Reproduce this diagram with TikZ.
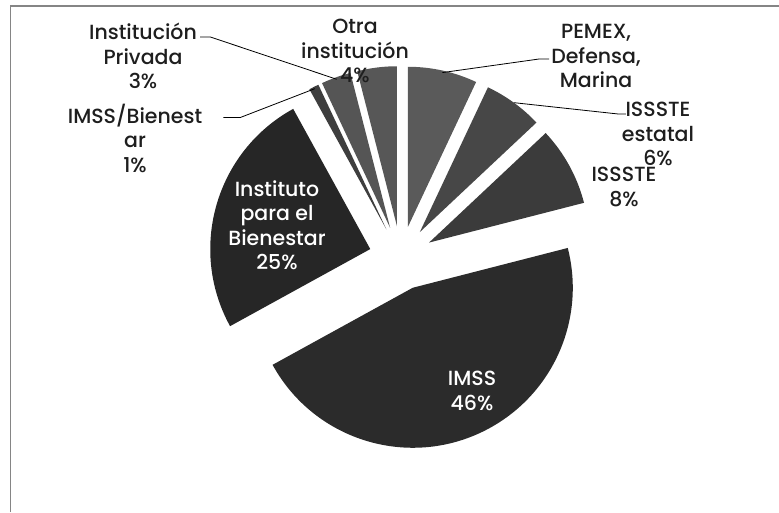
\documentclass[tikz,border=0pt]{standalone}
\usepackage{fontspec}
\setmainfont{Poppins}[UprightFont={* Medium}]
\definecolor{marco}{HTML}{858585}
\definecolor{texto}{HTML}{1E1E1E}
\definecolor{gPemex}{HTML}{5A5A5A}
\definecolor{gEstatal}{HTML}{474747}
\definecolor{gIssste}{HTML}{3B3B3B}
\definecolor{gImss}{HTML}{2B2B2B}
\definecolor{gBienestar}{HTML}{262626}
\definecolor{gImssBien}{HTML}{3E3E3E}
\definecolor{gPrivada}{HTML}{555555}
\definecolor{gOtra}{HTML}{575757}

\begin{document}
\begin{tikzpicture}
    [
        x=1pt, y=1pt,
        etiqueta/.style={align=center, inner sep=0pt, text=texto, font=\fontsize{20.5}{24.5}\selectfont},
        interna/.style={etiqueta, text=white},
        guia/.style={draw=black, line width=0.8pt},
    ]
    \useasboundingbox (0,0) rectangle (779,512);
    % marco
    \draw[marco, line width=1.5pt] (10.5,0) -- (10.5,506) -- (779,506);
    % rebanadas
    \begin{scope}[shift={(401,254)}]
        \fill[gPemex] (77.4:32) -- ++(64.8:160) arc[start angle=64.8, end angle=90, radius=160] -- cycle;
        \fill[gEstatal] (54:32) -- ++(43.2:160) arc[start angle=43.2, end angle=64.8, radius=160] -- cycle;
        \fill[gIssste] (28.8:32) -- ++(14.4:160) arc[start angle=14.4, end angle=43.2, radius=160] -- cycle;
        \fill[gImss] (-68.4:32) -- ++(-151.2:160) arc[start angle=-151.2, end angle=14.4, radius=160] -- cycle;
        \fill[gBienestar] (163.8:32) -- ++(118.8:160) arc[start angle=118.8, end angle=208.8, radius=160] -- cycle;
        \fill[gImssBien] (117:32) -- ++(115.2:160) arc[start angle=115.2, end angle=118.8, radius=160] -- cycle;
        \fill[gPrivada] (109.8:32) -- ++(104.4:160) arc[start angle=104.4, end angle=115.2, radius=160] -- cycle;
        \fill[gOtra] (97.2:32) -- ++(90:160) arc[start angle=90, end angle=104.4, radius=160] -- cycle;
        % puntos de las lineas guia
        \coordinate (pPemex) at (77.4:190);
        \coordinate (pEstatal) at (54:192);
        \coordinate (pImssBien) at (117:190);
        \coordinate (pPrivada) at (109.8:190);
    \end{scope}
    % etiquetas
    \node[etiqueta] (otra) at (355,461) {Otra\\institución\\4\%};
    \node[etiqueta] (privada) at (143,456) {Institución\\Privada\\3\%};
    \node[etiqueta] (imssbien) at (135,374) {IMSS/Bienest\\ar\\1\%};
    \node[etiqueta] (pemex) at (596,456) {PEMEX,\\Defensa,\\Marina};
    \node[etiqueta] (estatal) at (658,378) {ISSSTE\\estatal\\6\%};
    \node[etiqueta] (issste) at (624,325) {ISSSTE\\8\%};
    \node[interna] (bienestar) at (277,287) {Instituto\\para el\\Bienestar\\25\%};
    \node[interna] (imss) at (472,121) {IMSS\\46\%};
    % lineas guia
    \draw[guia] (privada.north east) ++(3,-14) -- ++(10,0) -- (pPrivada);
    \draw[guia] (imssbien.north east) ++(21,-14) -- ++(17,0) -- (pImssBien);
    \draw[guia] (pemex.west) ++(-2,-3) -- ++(-10,0) -- (pPemex);
    \draw[guia] (estatal.north west) ++(4,-12) -- ++(-8,0) -- (pEstatal);
\end{tikzpicture}
\end{document}
